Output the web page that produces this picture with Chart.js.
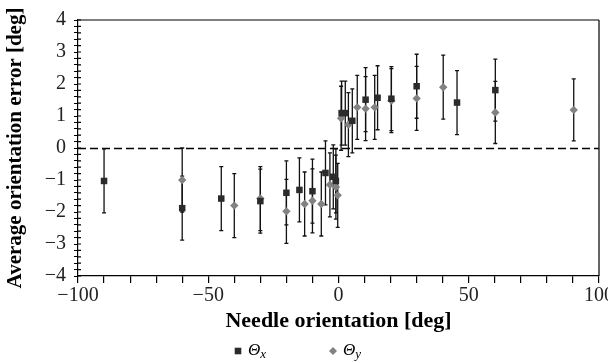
<!DOCTYPE html>
<html>
<head>
<meta charset="utf-8">
<script src="https://cdn.jsdelivr.net/npm/chart.js@4"></script>
<style>
  html, body { margin: 0; padding: 0; background: #fff; }
  #wrap { width: 608px; height: 363px; }
</style>
</head>
<body>
<div id="wrap"><canvas id="errChart" width="608" height="363"></canvas></div>
<script>
// needle orientation [deg], mean error [deg], error bar half-length [deg]
const thetaXAngle = [-90, -60, -45, -30, -20, -15, -10, -5, -2, -1, 1.2, 2.6, 5.3, 10.4, 15, 20.3, 30, 45.5, 60.2];
const thetaXError = [-1.03, -1.88, -1.58, -1.66, -1.40, -1.31, -1.35, -0.78, -0.90, -1.03, 1.09, 1.09, 0.85, 1.51, 1.57, 1.54, 1.93, 1.42, 1.81];
const thetaXSpread = [1.0, 1.0, 1.0, 1.0, 1.0, 1.0, 1.0, 1.0, 1.0, 1.0, 1.0, 1.0, 1.0, 1.0, 1.0, 1.0, 1.0, 1.0, 0.97];

const thetaYAngle = [-60, -40, -30, -20, -13, -10, -6.6, -3.3, -1, -0.3, 1, 3.8, 7.2, 10.4, 13.9, 20.3, 30, 40.2, 60.2, 90.3];
const thetaYError = [-1.0, -1.80, -1.58, -1.98, -1.75, -1.65, -1.75, -1.15, -1.22, -1.48, 0.93, 0.73, 1.27, 1.23, 1.27, 1.48, 1.55, 1.90, 1.11, 1.19];
const thetaYSpread = [1.0, 1.0, 1.0, 1.0, 1.0, 1.0, 1.0, 1.0, 1.0, 1.0, 1.0, 1.0, 1.0, 1.0, 1.0, 1.0, 1.0, 1.0, 0.97, 0.97];

const xLabels = [-100, -50, 0, 50, 100];
const yLabels = [-4, -3, -2, -1, 0, 1, 2, 3, 4];

const serif = "'Liberation Serif', 'DejaVu Serif', serif";

function toPoints(xs, ys, errs) {
    return xs.map((x, i) => ({ x: x, y: ys[i], err: errs[i] }));
}
function minusSign(v) {
    return String(v).replace('-', '\u2212');
}

// vertical error bars with small caps, under the markers
const errorBars = {
    id: 'errorBars',
    beforeDatasetsDraw(chart) {
        const ctx = chart.ctx;
        const xs = chart.scales.x, ys = chart.scales.y;
        ctx.save();
        ctx.strokeStyle = '#111';
        ctx.lineWidth = 1.3;
        chart.data.datasets.forEach(ds => {
            ds.data.forEach(p => {
                const px = xs.getPixelForValue(p.x);
                const top = ys.getPixelForValue(p.y + p.err);
                const bot = ys.getPixelForValue(p.y - p.err);
                ctx.beginPath();
                ctx.moveTo(px, top); ctx.lineTo(px, bot);
                ctx.moveTo(px - 2, top); ctx.lineTo(px + 2, top);
                ctx.moveTo(px - 2, bot); ctx.lineTo(px + 2, bot);
                ctx.stroke();
            });
        });
        ctx.restore();
    }
};

// zero line, frame and inner tick stubs
const frame = {
    id: 'frame',
    beforeDatasetsDraw(chart) {
        const ctx = chart.ctx;
        const a = chart.chartArea;
        const ys = chart.scales.y;
        const y0 = Math.round(ys.getPixelForValue(0)) + 0.5;
        ctx.save();
        ctx.strokeStyle = '#000';
        ctx.lineWidth = 1.3;
        ctx.setLineDash([8, 4]);
        ctx.beginPath();
        ctx.moveTo(a.left, y0); ctx.lineTo(a.right, y0);
        ctx.stroke();
        ctx.setLineDash([]);
        ctx.strokeStyle = '#555';
        ctx.lineWidth = 1.5;
        ctx.beginPath();
        ctx.moveTo(a.left, a.top); ctx.lineTo(a.right, a.top);
        ctx.stroke();
        ctx.strokeStyle = '#000';
        ctx.lineWidth = 1.2;
        ctx.beginPath();
        ctx.moveTo(a.right, a.top); ctx.lineTo(a.right, a.bottom);
        ys.ticks.forEach((t, i) => {
            const py = ys.getPixelForTick(i);
            ctx.moveTo(a.left, py); ctx.lineTo(a.left + 3, py);
        });
        ctx.stroke();
        ctx.restore();
    }
};

// legend with italic theta and subscripts
const thetaLegend = {
    id: 'thetaLegend',
    afterDraw(chart) {
        const ctx = chart.ctx;
        const cy = 351;
        const items = [
            { x: 238, sub: 'x', ds: chart.data.datasets[0] },
            { x: 333, sub: 'y', ds: chart.data.datasets[1] }
        ];
        ctx.save();
        items.forEach(it => {
            ctx.fillStyle = it.ds.backgroundColor;
            ctx.beginPath();
            if (it.ds.pointStyle === 'rect') {
                ctx.rect(it.x - 3.3, cy - 3.3, 6.6, 6.6);
            } else {
                ctx.moveTo(it.x, cy - 4); ctx.lineTo(it.x + 4, cy);
                ctx.lineTo(it.x, cy + 4); ctx.lineTo(it.x - 4, cy);
                ctx.closePath();
            }
            ctx.fill();
            ctx.fillStyle = '#000';
            ctx.textBaseline = 'middle';
            ctx.font = 'italic 17px ' + serif;
            ctx.fillText('\u0398', it.x + 10, cy);
            const w = ctx.measureText('\u0398').width;
            ctx.font = 'italic 13px ' + serif;
            ctx.fillText(it.sub, it.x + 10 + w, cy + 4);
        });
        ctx.restore();
    }
};

const ctx = document.getElementById('errChart').getContext('2d');
const errChart = new Chart(ctx, {
    type: 'scatter',
    data: {
        datasets: [{
            label: '\u0398x',
            data: toPoints(thetaXAngle, thetaXError, thetaXSpread),
            pointStyle: 'rect',
            pointRadius: 4.6,
            pointHoverRadius: 4.6,
            backgroundColor: '#2b2b2b',
            borderColor: '#2b2b2b',
            borderWidth: 0,
        }, {
            label: '\u0398y',
            data: toPoints(thetaYAngle, thetaYError, thetaYSpread),
            pointStyle: 'rectRot',
            pointRadius: 4.2,
            pointHoverRadius: 4.2,
            backgroundColor: '#828282',
            borderColor: '#828282',
            borderWidth: 0,
        }],
    },
    options: {
        responsive: false,
        animation: false,
        layout: { padding: { top: 19, right: 9, bottom: 28, left: 0 } },
        plugins: {
            legend: { display: false },
            tooltip: { enabled: false },
        },
        scales: {
            x: {
                type: 'linear',
                min: xLabels[0],
                max: xLabels[xLabels.length - 1],
                afterFit: (s) => { s.height = 59; s.paddingRight = 0; s.paddingLeft = 0; },
                border: { color: '#000', width: 1.2 },
                grid: { drawOnChartArea: false, color: '#000', tickLength: 7, lineWidth: 1.2 },
                ticks: {
                    stepSize: 10,
                    autoSkip: false,
                    maxRotation: 0,
                    padding: 1,
                    color: '#222',
                    font: { family: serif, size: 20 },
                    callback: (v) => xLabels.includes(v) ? minusSign(v) : '',
                },
                title: {
                    display: true,
                    text: 'Needle orientation [deg]',
                    color: '#000',
                    font: { family: serif, size: 22, weight: 'bold' },
                    padding: { top: 0, bottom: 0 },
                },
            },
            y: {
                type: 'linear',
                min: yLabels[0],
                max: yLabels[yLabels.length - 1],
                afterFit: (s) => { s.width = 78; },
                border: { color: '#000', width: 1.2 },
                grid: { drawOnChartArea: false, color: '#000', tickLength: 4, lineWidth: 1 },
                ticks: {
                    stepSize: 0.2,
                    autoSkip: false,
                    padding: 8,
                    color: '#222',
                    font: { family: serif, size: 20 },
                    callback: (v) => {
                        const r = Math.round(v);
                        return (Math.abs(v - r) < 1e-6 && yLabels.includes(r)) ? minusSign(r) : '';
                    },
                },
                title: {
                    display: true,
                    text: 'Average orientation error [deg]',
                    color: '#000',
                    font: { family: serif, size: 21, weight: 'bold' },
                    padding: { top: 3, bottom: 0 },
                },
            },
        },
    },
    plugins: [frame, errorBars, thetaLegend],
});
</script>
</body>
</html>
